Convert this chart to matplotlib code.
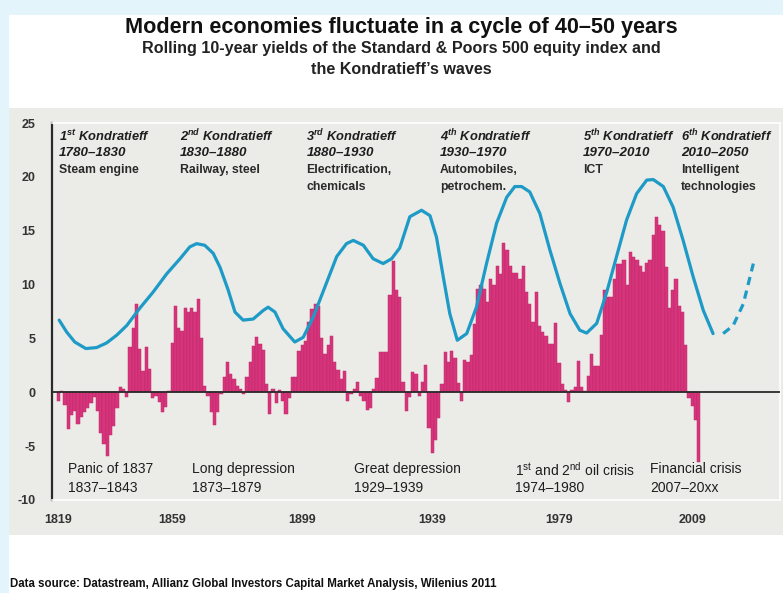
import matplotlib
matplotlib.use("Agg")
import matplotlib.pyplot as plt
from matplotlib.patches import Rectangle

# ---------------- data ----------------
returns = [
    -0.8, 0.1, -1.2, -3.4, -2.1, -1.7, -2.9, -2.3, -1.8, -1.5, -1.0, -0.4, -1.7, -3.8, -4.8, -5.9,
    -4.0, -3.1, -1.5, 0.5, 0.3, -0.4, 4.2, 6.0, 8.2, 4.0, 2.0, 4.2, 2.2, -0.5, -0.3, -0.9, -1.8,
    -1.4, 0.1, 4.6, 8.0, 6.0, 5.7, 7.8, 7.5, 7.8, 7.5, 8.7, 5.0, 0.6, -0.3, -1.8, -3.0,
    -1.8, -0.2, 1.4, 2.8, 1.7, 1.2, 0.6, 0.3, -0.2, 1.4, 2.8, 4.3, 5.1, 4.5, 3.9, 0.8, -2.0, 0.3,
    -1.0, 0.2, -0.8, -2.0, -0.5, 1.4, 1.4, 3.8, 4.4, 4.8, 6.5, 7.7, 8.2, 8.0, 5.0, 3.6, 4.4, 5.2,
    2.8, 2.1, 1.2, 2.0, -0.8, -0.2, 0.3, 1.0, -0.3, -0.8, -1.6, -1.5, 0.3, 1.3,
    3.7, 3.7, 3.7, 9.0, 12.2, 9.5, 8.8, 1.0, -1.7, -0.4, 1.9, 1.7, -0.3, 1.0, 2.5, -3.3, -5.6,
    -4.4, -2.4, 0.8, 3.7, 2.8, 3.8, 3.2, 0.9, -0.8, 3.0, 2.8, 3.5, 6.3, 9.6, 10.0, 9.6, 8.4,
    10.5, 10.0, 11.7, 11.0, 13.9, 13.2, 11.7, 11.1, 11.1, 10.5, 11.7, 9.3, 8.2, 6.5, 9.3, 6.2, 5.6,
    5.2, 4.5, 4.5, 6.4, 2.7, 0.8, 0.2, -0.9, 0.2, 0.5, 2.9, 0.5, 0.1, 1.5, 3.6, 2.4, 2.4, 5.3,
    9.5, 8.8, 8.8, 10.5, 11.9, 11.9, 12.3, 10.0, 13.0, 12.6, 12.3, 11.7, 11.2, 12.0, 12.3, 14.6,
    16.3, 15.5, 15.0, 11.6, 7.8, 9.5, 10.5, 8.0, 7.5, 4.4, -0.5, -1.3, -2.6, -6.5,
]

wave_x = [0.2, 2.5, 5.0, 8.4, 11.7, 14.8, 17.9, 21.0, 25.0, 29.1, 33.3, 37.4, 40.4, 42.5,
          45.0, 47.6, 49.7, 52.2, 54.3, 56.8, 59.9, 63.0, 64.5, 66.6, 69.1, 72.7, 75.3,
          78.4, 82.0, 85.6, 88.6, 90.7, 93.8, 96.8, 99.9, 102.5, 105.0, 108.1, 111.7,
          114.3, 116.3, 118.4, 120.4, 122.7, 125.6, 128.6, 131.7, 134.8, 137.9, 140.4,
          142.5, 145.0, 148.1, 151.2, 154.3, 157.4, 160.4, 162.5, 165.6, 168.6, 171.7,
          174.8, 177.9, 181.0, 183.0, 186.1, 189.1, 192.2, 195.3, 198.4, 201.4]
wave_y = [6.7, 5.6, 4.67, 4.06, 4.15, 4.58, 5.3, 6.2, 7.8, 9.3, 11.0, 12.4, 13.5, 13.8,
          13.65, 12.9, 11.6, 9.5, 7.45, 6.7, 6.8, 7.6, 7.9, 7.45, 5.9, 4.67, 5.1,
          7.0, 9.8, 12.6, 13.8, 14.1, 13.65, 12.4, 11.95, 12.4, 13.4, 16.3, 16.9,
          16.4, 14.4, 10.7, 7.3, 4.83, 5.45, 7.9, 11.95, 15.7, 18.1, 19.1,
          19.1, 18.6, 16.6, 13.2, 10.1, 7.3, 5.76, 5.5, 6.4, 9.2, 12.6,
          16.0, 18.45, 19.7, 19.75, 19.1, 17.2, 14.1, 10.7, 7.6, 5.45]
forecast_x = [204.5, 207.6, 210.7, 213.8]
forecast_y = [5.45, 6.2, 8.2, 11.95]

tick_pos = [0, 35, 75, 115, 154, 195]
tick_labels = ["1819", "1859", "1899", "1939", "1979", "2009"]

wave_ord = ["1", "2", "3", "4", "5", "6"]
wave_suf = ["st", "nd", "rd", "th", "th", "th"]
wave_years = ["1780–1830", "1830–1880", "1880–1930", "1930–1970", "1970–2010", "2010–2050"]
wave_tech = [["Steam engine"], ["Railway, steel"], ["Electrification,", "chemicals"],
             ["Automobiles,", "petrochem."], ["ICT"], ["Intelligent", "technologies"]]
wave_label_x = [0.2, 37.4, 76.3, 117.4, 161.3, 191.5]

crisis_names = ["Panic of 1837", "Long depression", "Great depression",
                "1$^{\\mathrm{st}}$ and 2$^{\\mathrm{nd}}$ oil crisis", "Financial crisis"]
crisis_years = ["1837–1843", "1873–1879", "1929–1939", "1974–1980", "2007–20xx"]
crisis_x = [2.9, 41.0, 90.9, 140.4, 182.0]

# ---------------- style ----------------
FONT = "Liberation Sans"
plt.rcParams["font.family"] = [FONT, "DejaVu Sans"]
plt.rcParams["mathtext.fontset"] = "custom"
plt.rcParams["mathtext.rm"] = FONT
plt.rcParams["mathtext.it"] = FONT + ":italic"
plt.rcParams["mathtext.bf"] = FONT + ":italic:bold"

BAR = "#d8347c"
LINE = "#1d9bc6"
GRAY = "#ebebe7"
BLUE = "#e3f4fb"
TXT = "#1e1e1e"

W, H = 783, 593
fig = plt.figure(figsize=(W / 100, H / 100), dpi=100, facecolor="white")

# background panels
fig.add_artist(Rectangle((0, 1 - 15 / H), 1, 15 / H, transform=fig.transFigure,
                         facecolor=BLUE, edgecolor="none", zorder=-10))
fig.add_artist(Rectangle((0, 0), 9 / W, 1, transform=fig.transFigure,
                         facecolor=BLUE, edgecolor="none", zorder=-10))
fig.add_artist(Rectangle((9 / W, 1 - 535 / H), 1 - 9 / W, (535 - 108) / H,
                         transform=fig.transFigure, facecolor=GRAY, edgecolor="none", zorder=-9))

ax = fig.add_axes([52 / W, 1 - 500 / H, (780 - 52) / W, 377 / H])
ax.set_facecolor(GRAY)
ax.set_xlim(-2.0, 222.0)
ax.set_ylim(-10, 25)

ax.bar(range(len(returns)), returns, width=1.0, color=BAR, edgecolor="#bb2a6b",
       linewidth=0.35, zorder=2)
ax.axhline(0, color="#2a2a2a", lw=1.3, zorder=3)
ax.plot(wave_x, wave_y, color=LINE, lw=2.3, solid_capstyle="round",
        solid_joinstyle="round", zorder=4)
ax.plot(forecast_x, forecast_y, color=LINE, lw=2.3, ls=(0, (2.6, 1.8)), zorder=4)

ax.set_yticks(range(-10, 26, 5))
ax.set_yticklabels([str(v) for v in range(-10, 26, 5)])
ax.set_xticks(tick_pos)
ax.set_xticklabels(tick_labels)
ax.tick_params(axis="both", length=0, labelsize=9, labelcolor="#333333")
ax.tick_params(axis="y", pad=12)
ax.tick_params(axis="x", pad=10)
for lab in ax.get_xticklabels() + ax.get_yticklabels():
    lab.set_fontweight("bold")

for side in ["top", "right", "bottom"]:
    ax.spines[side].set_color("white")
    ax.spines[side].set_linewidth(1.2)
ax.spines["left"].set_color("#2a2a2a")
ax.spines["left"].set_linewidth(1.6)

# Kondratieff wave labels
line_y = [23.8, 22.24, 20.6, 19.03]
for i in range(len(wave_ord)):
    x = wave_label_x[i]
    ax.text(x, line_y[0], wave_ord[i] + "$^{\\mathbf{" + wave_suf[i] + "}}$ Kondratieff",
            fontsize=9.3, fontweight="bold", fontstyle="italic", color=TXT, va="center", ha="left")
    ax.text(x, line_y[1], wave_years[i], fontsize=9.6, fontweight="bold", fontstyle="italic",
            color=TXT, va="center", ha="left")
    for j, t in enumerate(wave_tech[i]):
        ax.text(x, line_y[2 + j], t, fontsize=8.8, fontweight="bold", color="#2a2a2a",
                va="center", ha="left")

# crisis labels
for i in range(len(crisis_names)):
    ax.text(crisis_x[i], -7.15, crisis_names[i], fontsize=10.0, color=TXT, va="center", ha="left")
    ax.text(crisis_x[i], -8.85, crisis_years[i], fontsize=10.0, color=TXT, va="center", ha="left")

# titles
fig.text(0.513, 1 - 28 / H, "Modern economies fluctuate in a cycle of 40–50 years",
         fontsize=15.6, fontweight="bold", color="#111111", ha="center", va="center")
fig.text(0.513, 1 - 49 / H, "Rolling 10-year yields of the Standard & Poors 500 equity index and",
         fontsize=11.6, fontweight="bold", color="#222222", ha="center", va="center")
fig.text(0.513, 1 - 70 / H, "the Kondratieff’s waves",
         fontsize=11.6, fontweight="bold", color="#222222", ha="center", va="center")
fig.text(10 / W, 1 - 584 / H,
         "Data source: Datastream, Allianz Global Investors Capital Market Analysis, Wilenius 2011",
         fontsize=8.3, fontweight="bold", color="#111111", ha="left", va="center")

fig.savefig("out.png", dpi=100, facecolor="white")
